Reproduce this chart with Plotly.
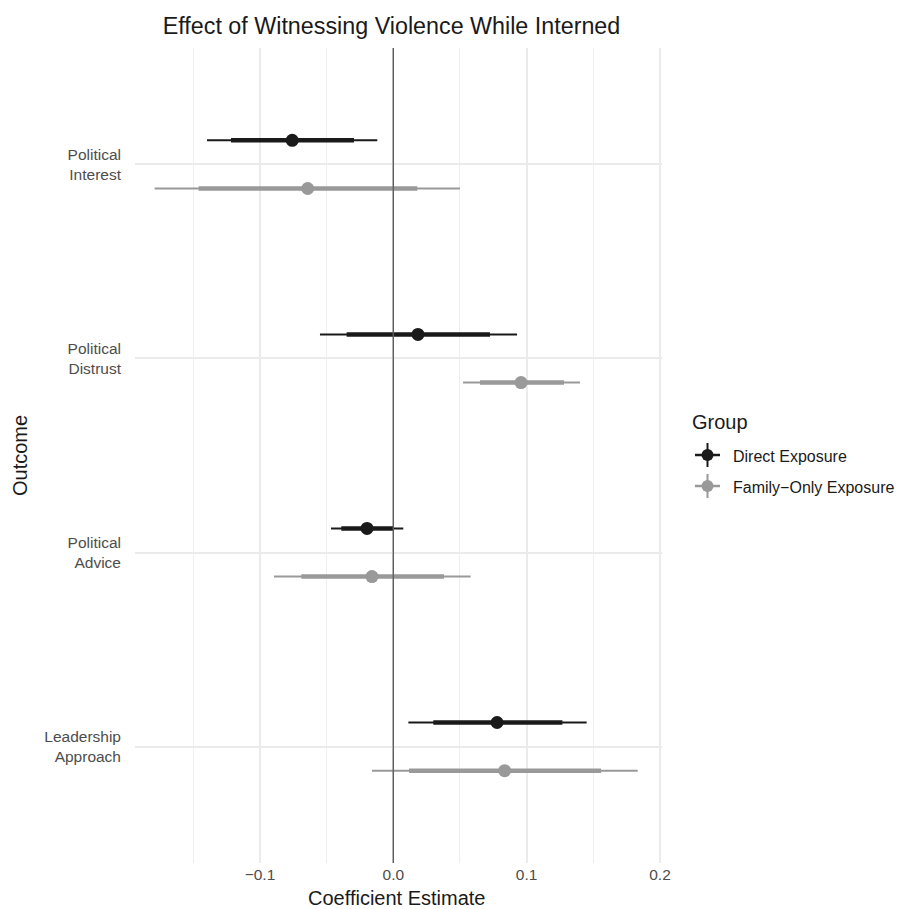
import plotly.graph_objects as go

# ---- data ----
outcomes = ["Political<br>Interest", "Political<br>Distrust", "Political<br>Advice", "Leadership<br>Approach"]
groups = ["Direct Exposure", "Family\u2212Only Exposure"]

direct_est = [-0.0758, 0.0185, -0.0197, 0.0778]
direct_lo_thick = [-0.1217, -0.035, -0.039, 0.030]
direct_hi_thick = [-0.0295, 0.0725, 0.000, 0.1268]
direct_lo_thin = [-0.1397, -0.055, -0.0467, 0.0113]
direct_hi_thin = [-0.012, 0.0928, 0.0075, 0.145]

family_est = [-0.0642, 0.0958, -0.016, 0.0835]
family_lo_thick = [-0.146, 0.065, -0.069, 0.0118]
family_hi_thick = [0.018, 0.128, 0.038, 0.1558]
family_lo_thin = [-0.179, 0.0523, -0.0895, -0.016]
family_hi_thin = [0.050, 0.140, 0.058, 0.1833]

x_ticks = [-0.1, 0.0, 0.1, 0.2]
x_tick_labels = ["\u22120.1", "0.0", "0.1", "0.2"]

# ---- layout helpers ----
positions = [4, 3, 2, 1]  # top to bottom
dodge = 0.124
colors = {"Direct Exposure": "#1a1a1a", "Family\u2212Only Exposure": "#999999"}

series = [
    (groups[0], +dodge, direct_est, direct_lo_thick, direct_hi_thick, direct_lo_thin, direct_hi_thin),
    (groups[1], -dodge, family_est, family_lo_thick, family_hi_thick, family_lo_thin, family_hi_thin),
]

fig = go.Figure()

for name, off, est, lo_k, hi_k, lo_n, hi_n in series:
    col = colors[name]
    ys = [p + off for p in positions]
    xs_thin, ys_thin, xs_thick, ys_thick = [], [], [], []
    for i in range(len(ys)):
        xs_thin += [lo_n[i], hi_n[i], None]
        ys_thin += [ys[i], ys[i], None]
        xs_thick += [lo_k[i], hi_k[i], None]
        ys_thick += [ys[i], ys[i], None]
    fig.add_trace(go.Scatter(x=xs_thin, y=ys_thin, mode="lines",
                             line=dict(color=col, width=2), showlegend=False, hoverinfo="skip"))
    fig.add_trace(go.Scatter(x=xs_thick, y=ys_thick, mode="lines",
                             line=dict(color=col, width=4.5), showlegend=False, hoverinfo="skip"))
    fig.add_trace(go.Scatter(x=est, y=ys, mode="markers", name=name,
                             marker=dict(color=col, size=13, line=dict(width=0)), showlegend=False))

# zero reference line
fig.add_shape(type="line", xref="x", yref="paper", x0=0, x1=0, y0=0, y1=1,
              line=dict(color="#5e5e5e", width=1.4), layer="above")

# ---- geometry (screen pixels; page body margin removed below) ----
W, H = 899, 909
L, R, T, B = 135, 662, 48, 863  # plot area on screen


def px(xs):
    return (xs - L) / (R - L)


def py(ys):
    return (B - ys) / (B - T)


# ---- manual legend (ggplot style pointrange key) ----
fig.add_annotation(x=px(690), y=py(422), xref="paper", yref="paper", text="Group",
                   showarrow=False, xanchor="left", yanchor="middle",
                   font=dict(size=20, color="#1a1a1a"))
for name, yy in [(groups[0], 455), (groups[1], 486)]:
    col = colors[name]
    fig.add_shape(type="line", xref="paper", yref="paper", x0=px(695), x1=px(720), y0=py(yy), y1=py(yy),
                  line=dict(color=col, width=2.5))
    fig.add_shape(type="line", xref="paper", yref="paper", x0=px(707.5), x1=px(707.5),
                  y0=py(yy - 12), y1=py(yy + 12), line=dict(color=col, width=2))
    fig.add_shape(type="circle", xref="paper", yref="paper", x0=px(701.5), x1=px(713.5),
                  y0=py(yy + 6), y1=py(yy - 6), fillcolor=col, line=dict(width=0))
    fig.add_annotation(x=px(731), y=py(yy + 1), xref="paper", yref="paper", text=name,
                       showarrow=False, xanchor="left", yanchor="middle",
                       font=dict(size=16, color="#1a1a1a"))

# axis titles as annotations for exact placement
fig.add_annotation(x=px(396.5), y=py(898), xref="paper", yref="paper", text="Coefficient Estimate",
                   showarrow=False, xanchor="center", yanchor="middle",
                   font=dict(size=20, color="#1a1a1a"))
fig.add_annotation(x=px(20), y=py(455), xref="paper", yref="paper", text="Outcome",
                   showarrow=False, xanchor="center", yanchor="middle", textangle=-90,
                   font=dict(size=20, color="#1a1a1a"))

fig.update_layout(
    width=W, height=H,
    margin=dict(l=L, r=W - R, t=T, b=H - B, autoexpand=False),
    paper_bgcolor="white", plot_bgcolor="white",
    font=dict(family="Liberation Sans, Arial, sans-serif", color="#1a1a1a"),
    title=dict(text="Effect of Witnessing Violence While Interned",
               x=391.5 / W, xanchor="center", xref="container",
               y=1 - 26 / H, yanchor="middle", yref="container",
               font=dict(size=23.3, color="#1a1a1a")),
    showlegend=False,
)
fig.update_xaxes(
    range=[-0.1937, 0.2015], tickvals=x_ticks, ticktext=x_tick_labels,
    showgrid=True, gridcolor="#ebebeb", gridwidth=2, zeroline=False, showline=False,
    ticks="", tickfont=dict(size=15.5, color="#4d4d4d"),
    minor=dict(dtick=0.05, tick0=0, showgrid=True, gridcolor="#eeeeee", gridwidth=1),
)
fig.update_yaxes(
    range=[0.4, 4.6], tickvals=positions, ticktext=outcomes,
    showgrid=True, gridcolor="#ebebeb", gridwidth=2, zeroline=False, showline=False,
    ticks="", ticklabelstandoff=13, tickfont=dict(size=15.5, color="#4d4d4d"),
)

fig.write_html("out.html", config={"displayModeBar": False, "staticPlot": True},
               post_script="document.body.style.margin='0';document.body.style.overflow='hidden';")
